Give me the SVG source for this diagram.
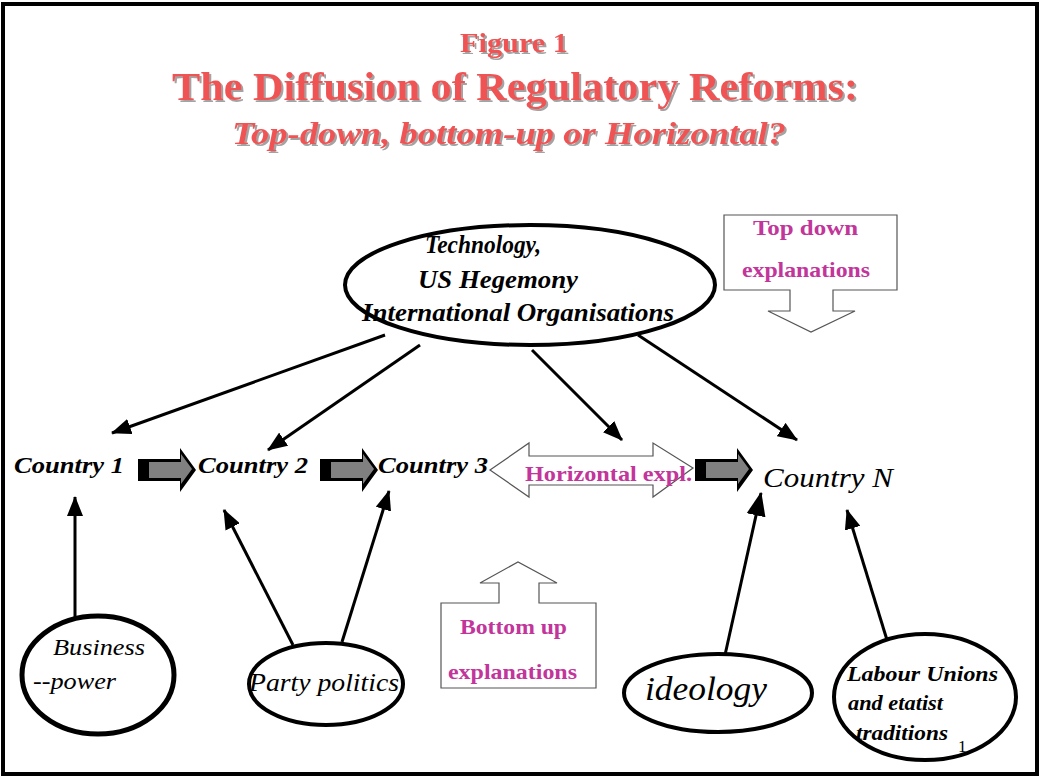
<svg xmlns="http://www.w3.org/2000/svg" width="1042" height="780" viewBox="0 0 1042 780">
<defs>
<style>
.title{font-family:"Liberation Serif",serif;font-weight:bold;fill:#f05252}
.ctry{font-family:"Liberation Serif",serif;font-style:italic;font-weight:bold;font-size:24px;fill:#000}
.lbl{font-family:"Liberation Serif",serif;font-style:italic;fill:#000}
.mag{font-family:"Liberation Serif",serif;font-weight:bold;font-size:22px;fill:#c2359a}
.ell{fill:#fff;stroke:#000}
.con{stroke:#000;stroke-width:3;fill:none}
.exp{fill:#fff;stroke:#555;stroke-width:1.2}
.blk{fill:#000}
.gry{fill:#808080}
</style>
<marker id="ah" viewBox="0 0 20 16" refX="19" refY="8" markerWidth="20" markerHeight="16" markerUnits="userSpaceOnUse" orient="auto">
<path d="M0,0 L20,8 L0,16 z" fill="#000"/>
</marker>
<marker id="ahb" viewBox="0 0 20 16" refX="19" refY="8" markerWidth="24" markerHeight="20" markerUnits="userSpaceOnUse" orient="auto">
<path d="M0,0 L20,8 L0,16 z" fill="#000"/>
</marker>
<filter id="sh" x="-5%" y="-20%" width="110%" height="140%">
<feDropShadow dx="2" dy="2" stdDeviation="0.6" flood-color="#999" flood-opacity="0.9"/>
</filter>
</defs>
<rect x="3" y="4" width="1034" height="770" fill="#fff" stroke="#000" stroke-width="4"/>

<g id="title" filter="url(#sh)">
<text class="title" x="460" y="52" font-size="27" textLength="108" lengthAdjust="spacingAndGlyphs">Figure 1</text>
<text class="title" x="172" y="100" font-size="40" textLength="686" lengthAdjust="spacingAndGlyphs">The Diffusion of Regulatory Reforms:</text>
<text class="title" x="232" y="144" font-size="32" font-style="italic" textLength="554" lengthAdjust="spacingAndGlyphs">Top-down, bottom-up or Horizontal?</text>
</g>

<g id="connectors">
<line class="con" x1="385" y1="335" x2="112" y2="433" marker-end="url(#ah)"/>
<line class="con" x1="420" y1="345" x2="268" y2="450" marker-end="url(#ah)"/>
<line class="con" x1="532" y1="350" x2="622" y2="440" marker-end="url(#ah)"/>
<line class="con" x1="638" y1="335" x2="797" y2="440" marker-end="url(#ah)"/>
<line class="con" x1="75" y1="617" x2="75" y2="497" stroke-width="4" marker-end="url(#ah)"/>
<line class="con" x1="293" y1="645" x2="224" y2="510" stroke-width="4" marker-end="url(#ah)"/>
<line class="con" x1="342" y1="642" x2="389" y2="491" stroke-width="4" marker-end="url(#ah)"/>
<line class="con" x1="725" y1="655" x2="761" y2="493" stroke-width="7" marker-end="url(#ahb)"/>
<line class="con" x1="887" y1="640" x2="847" y2="510" stroke-width="4" marker-end="url(#ah)"/>
<g id="block-arrow-1">
<polygon class="blk" points="138,459 180,459 180,448 196,470 180,492 180,481 138,481"/>
<polygon class="gry" points="149,462 181,462 181,454 192,469 181,484 181,478 149,478"/>
</g>
<g id="block-arrow-2">
<polygon class="blk" points="320,459 362,459 362,448 378,470 362,492 362,481 320,481"/>
<polygon class="gry" points="331,462 363,462 363,454 374,469 363,484 363,478 331,478"/>
</g>
<g id="block-arrow-3">
<polygon class="blk" points="695,459 737,459 737,448 753,470 737,492 737,481 695,481"/>
<polygon class="gry" points="706,462 738,462 738,454 749,469 738,484 738,478 706,478"/>
</g>
</g>

<g id="global-forces">
<ellipse class="ell" cx="530" cy="285" rx="185" ry="60" stroke-width="4"/>
<text class="lbl" x="425" y="253" font-size="25" font-weight="bold" textLength="116" lengthAdjust="spacingAndGlyphs">Technology,</text>
<text class="lbl" x="418" y="288" font-size="25" font-weight="bold" textLength="160" lengthAdjust="spacingAndGlyphs">US Hegemony</text>
<text class="lbl" x="362" y="321" font-size="25" font-weight="bold" textLength="312" lengthAdjust="spacingAndGlyphs">International Organisations</text>
</g>

<g id="top-down">
<path class="exp" d="M724,215 H897 V290 H833 V311 H855 L811,332 L768,311 H790 V290 H724 Z"/>
<text class="mag" x="753" y="235" textLength="105" lengthAdjust="spacingAndGlyphs">Top down</text>
<text class="mag" x="742" y="277" textLength="128" lengthAdjust="spacingAndGlyphs">explanations</text>
</g>

<g id="country-1"><text class="ctry" x="14" y="473" textLength="110" lengthAdjust="spacingAndGlyphs">Country 1</text></g>
<g id="country-2"><text class="ctry" x="198" y="473" textLength="110" lengthAdjust="spacingAndGlyphs">Country 2</text></g>
<g id="country-3"><text class="ctry" x="378" y="473" textLength="110" lengthAdjust="spacingAndGlyphs">Country 3</text></g>
<g id="country-n"><text class="lbl" x="763" y="487" font-size="27" textLength="130" lengthAdjust="spacingAndGlyphs">Country N</text></g>

<g id="horizontal">
<polygon class="exp" points="490,470 529,443 529,456 653,456 653,443 693,468 653,497 653,485 529,485 529,497"/>
<text class="mag" x="525" y="481" textLength="167" lengthAdjust="spacingAndGlyphs">Horizontal expl.</text>
</g>

<g id="bottom-up">
<path class="exp" d="M441,603 H499 V583 H480 L518,562 L557,583 H539 V603 H596 V688 H441 Z"/>
<text class="mag" x="460" y="634" textLength="107" lengthAdjust="spacingAndGlyphs">Bottom up</text>
<text class="mag" x="448" y="679" textLength="129" lengthAdjust="spacingAndGlyphs">explanations</text>
</g>

<g id="business">
<ellipse class="ell" cx="98" cy="675" rx="76" ry="59" stroke-width="5"/>
<text class="lbl" x="53" y="655" font-size="24" textLength="92" lengthAdjust="spacingAndGlyphs">Business</text>
<text class="lbl" x="33" y="689" font-size="24" textLength="83" lengthAdjust="spacingAndGlyphs">--power</text>
</g>

<g id="party-politics">
<ellipse class="ell" cx="326" cy="684" rx="77" ry="41" stroke-width="4"/>
<text class="lbl" x="249" y="691" font-size="25" textLength="150" lengthAdjust="spacingAndGlyphs">Party politics</text>
</g>

<g id="ideology">
<ellipse class="ell" cx="718" cy="693" rx="94" ry="39" stroke-width="4"/>
<text class="lbl" x="645" y="700" font-size="34" textLength="122" lengthAdjust="spacingAndGlyphs">ideology</text>
</g>

<g id="labour">
<ellipse class="ell" cx="925" cy="697" rx="91" ry="63" stroke-width="4"/>
<text class="lbl" x="847" y="681" font-size="21" font-weight="bold" textLength="151" lengthAdjust="spacingAndGlyphs">Labour Unions</text>
<text class="lbl" x="848" y="710" font-size="21" font-weight="bold" textLength="95" lengthAdjust="spacingAndGlyphs">and etatist</text>
<text class="lbl" x="856" y="740" font-size="21" font-weight="bold" textLength="92" lengthAdjust="spacingAndGlyphs">traditions</text>
</g>
<text x="958" y="752" font-family="Liberation Serif,serif" font-size="17" fill="#000">1</text>
</svg>
